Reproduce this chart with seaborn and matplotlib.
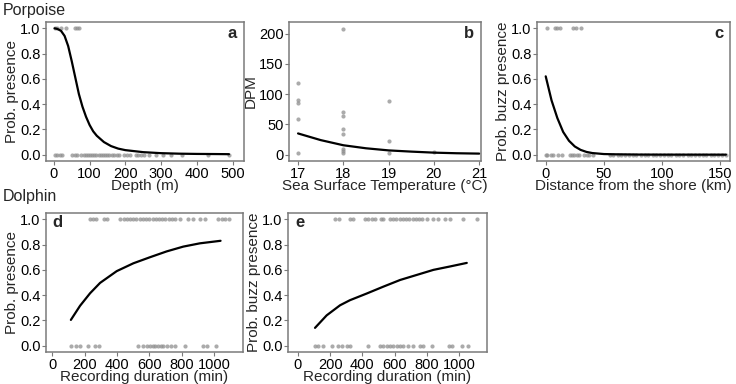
#!/usr/bin/env python3

import numpy as np                  # for arrays
import pandas as pd                 # for data frames
import matplotlib
matplotlib.use('Agg')
import matplotlib.pyplot as plt     # for plots
import seaborn as sns               # for the scatter + line layers

# ---- porpoise, panel a: depth ----
depthPresent = [2, 9, 21, 33, 58, 65, 70]
depthAbsent = [2, 9, 17, 24, 51, 58, 66, 77, 83, 89, 95, 101, 107, 113, 119, 125, 131, 137, 143, 149, 155,
               164, 168, 176, 183, 197, 204, 212, 229, 236, 243, 251, 267, 286, 304, 328, 359, 430, 490]
depthCurveX = [2, 10, 20, 30, 40, 50, 60, 70, 80, 90, 100, 110, 120, 140, 160, 180, 200, 250, 300, 350, 400, 450, 490]
depthCurveY = [1.0, 0.995, 0.98, 0.94, 0.86, 0.74, 0.61, 0.48, 0.38, 0.30, 0.235, 0.185, 0.15, 0.10, 0.068,
               0.048, 0.036, 0.02, 0.012, 0.008, 0.006, 0.005, 0.004]

# ---- porpoise, panel b: sea surface temperature vs DPM ----
sstX = [17, 17, 17, 17, 17, 18, 18, 18, 18, 18, 18, 18, 18, 19, 19, 19, 20]
sstDPM = [119, 90, 86, 59, 2, 208, 70, 63, 42, 34, 10, 6, 3, 89, 23, 3, 4]
sstCurveX = [17, 17.5, 18, 18.5, 19, 19.5, 20, 20.5, 21]
sstCurveY = [35, 24, 15.5, 10.5, 7, 5, 3.3, 2.3, 1.7]

# ---- porpoise, panel c: distance from shore ----
distPresent = [0.9, 8, 10, 12.3, 23.2, 26, 30.4]
distAbsent = [0, 1.4, 4.3, 6.6, 10.3, 14.3, 21, 22.4, 24.4, 26.7, 29, 33, 35.3, 37.6, 40.5,
              55, 58, 62, 65, 68, 72, 75, 78, 82, 85, 88, 92, 95, 98, 102, 105, 108, 112, 115,
              118, 122, 125, 128, 132, 135, 138, 142, 145, 148, 152, 155]
distCurveX = [0, 5, 10, 15, 20, 25, 30, 35, 40, 50, 60, 80, 100, 130, 155]
distCurveY = [0.62, 0.43, 0.29, 0.18, 0.11, 0.065, 0.038, 0.022, 0.013, 0.005, 0.003, 0.001, 0.0005, 0.0003, 0.0002]

# ---- dolphin, panel d: recording duration vs presence ----
durPresentD = [233, 254, 270, 320, 340, 419, 440, 460, 480, 500, 520, 540, 560, 580, 600, 620, 640, 660,
               680, 700, 720, 740, 760, 790, 841, 868, 913, 944, 1027, 1048, 1068, 1095]
durAbsentD = [114, 147, 171, 223, 264, 289, 532, 559, 584, 604, 621, 635, 656, 670, 686, 707, 732, 759,
              821, 930, 955, 1012]
durCurveDX = [114, 171, 233, 295, 398, 501, 604, 707, 810, 913, 1041]
durCurveDY = [0.204, 0.316, 0.415, 0.497, 0.59, 0.652, 0.70, 0.746, 0.784, 0.81, 0.83]

# ---- dolphin, panel e: recording duration vs buzz presence ----
durPresentE = [231, 257, 323, 344, 416, 437, 457, 478, 513, 529, 571, 590, 610, 630, 650, 670, 690, 710,
               730, 750, 770, 797, 835, 869, 911, 942, 1024, 1107]
durAbsentE = [107, 124, 158, 210, 251, 276, 303, 323, 437, 509, 529, 550, 571, 591, 612, 633, 653, 684,
              715, 756, 777, 829, 938, 952, 1014, 1055]
durCurveEX = [107, 179, 262, 323, 427, 529, 633, 736, 839, 942, 1045]
durCurveEY = [0.141, 0.24, 0.32, 0.36, 0.413, 0.467, 0.52, 0.56, 0.60, 0.627, 0.655]

sns.set_theme(style='white')
plt.rcParams['font.family'] = ['Liberation Sans', 'DejaVu Sans']

ptColor = '#8f8f8f'
frameColor = '#7a7a7a'


def binaryFrame(present, absent):
    # stack the 1s and 0s into one long table
    return pd.DataFrame({'x': list(present) + list(absent),
                         'y': [1.0] * len(present) + [0.0] * len(absent)})


def drawPanel(ax, pts, curveX, curveY, xlabel, ylabel, letter, letterPos, xlim, ylim, xticks, yticks, yfmt):
    sns.scatterplot(data=pts, x='x', y='y', ax=ax, color=ptColor, s=9, alpha=0.75, linewidth=0)
    sns.lineplot(x=curveX, y=curveY, ax=ax, color='black', linewidth=1.6)
    ax.set_xlim(*xlim)
    ax.set_ylim(*ylim)
    ax.set_xticks(xticks)
    ax.set_yticks(yticks)
    ax.set_yticklabels([yfmt.format(v) for v in yticks])
    ax.set_xlabel(xlabel, fontsize=11, labelpad=-1)
    ax.set_ylabel(ylabel, fontsize=11, labelpad=1)
    ax.tick_params(axis='both', labelsize=10.5, colors='black', length=3, width=0.8, pad=1,
                   direction='out', bottom=True, left=True)
    ax.tick_params(axis='both', color=frameColor)
    for sp in ax.spines.values():
        sp.set_color(frameColor)
        sp.set_linewidth(1.1)
    ax.grid(False)
    ax.text(letterPos[0], letterPos[1], letter, transform=ax.transAxes, fontsize=12,
            fontweight='bold', ha='center', va='center')


fig = plt.figure(figsize=(7.36, 3.84), dpi=100)
W, H = 736.0, 384.0

def box(l, r, top, bot):
    return [l / W, 1 - bot / H, (r - l) / W, (bot - top) / H]

axA = fig.add_axes(box(46, 244, 22, 161))
axB = fig.add_axes(box(289, 481, 22, 161))
axC = fig.add_axes(box(537, 730, 22, 161))
axD = fig.add_axes(box(46, 243, 213, 352))
axE = fig.add_axes(box(288, 487, 213, 352))

probTicks = [0.0, 0.2, 0.4, 0.6, 0.8, 1.0]

drawPanel(axA, binaryFrame(depthPresent, depthAbsent), depthCurveX, depthCurveY,
          'Depth (m)', 'Prob. presence', 'a', (0.94, 0.92),
          (-22, 532), (-0.05, 1.05), [0, 100, 200, 300, 400, 500], probTicks, '{:.1f}')

drawPanel(axB, pd.DataFrame({'x': sstX, 'y': sstDPM}), sstCurveX, sstCurveY,
          'Sea Surface Temperature (°C)', 'DPM', 'b', (0.94, 0.92),
          (16.8, 21.04), (-10.5, 219), [17, 18, 19, 20, 21], [0, 50, 100, 150, 200], '{:.0f}')

drawPanel(axC, binaryFrame(distPresent, distAbsent), distCurveX, distCurveY,
          'Distance from the shore (km)', 'Prob. buzz presence', 'c', (0.945, 0.92),
          (-7.5, 158.5), (-0.05, 1.05), [0, 50, 100, 150], probTicks, '{:.1f}')

drawPanel(axD, binaryFrame(durPresentD, durAbsentD), durCurveDX, durCurveDY,
          'Recording duration (min)', 'Prob. presence', 'd', (0.06, 0.93),
          (-40, 1180), (-0.05, 1.05), [0, 200, 400, 600, 800, 1000], probTicks, '{:.1f}')

drawPanel(axE, binaryFrame(durPresentE, durAbsentE), durCurveEX, durCurveEY,
          'Recording duration (min)', 'Prob. buzz presence', 'e', (0.06, 0.93),
          (-60, 1170), (-0.05, 1.05), [0, 200, 400, 600, 800, 1000], probTicks, '{:.1f}')

fig.text(3 / W, 1 - 10 / H, 'Porpoise', fontsize=11.5, ha='left', va='center')
fig.text(3 / W, 1 - 197 / H, 'Dolphin', fontsize=11.5, ha='left', va='center')

fig.savefig('out.png', dpi=100)
